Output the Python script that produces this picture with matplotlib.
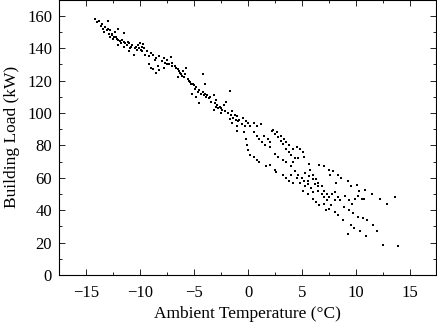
import matplotlib
matplotlib.use("Agg")
import matplotlib.pyplot as plt
from matplotlib.ticker import MultipleLocator

# ambient temperature (°C) and building load (kW)
temp = [
    -14.2, -14.0, -13.8, -13.5, -13.2, -13.0, -13.3, -13.0, -12.8, -12.6, -12.3, -12.0, -11.5,
    -12.8, -12.5, -12.2, -12.0, -11.8, -11.5, -11.2, -11.0, -10.8, -10.5, -10.2, -10.0, -9.8,
    -9.6, -9.7, -12.0, -11.5, -11.0, -10.6, -10.3, -9.8, -9.5, -9.2,
    -8.6, -8.2, -7.8, -7.5, -7.15, -7.0, -7.5, -7.8, -8.3, -8.8, -9.0, -9.2, -8.2, -8.5,
    -6.8, -6.5, -6.3, -6.0, -6.1, -5.8, -5.76, -6.5,
    -5.5, -5.3, -5.0, -4.8, -4.5, -4.2, -4.0, -3.8, -3.5, -3.2, -3.0, -4.18, -4.03, -5.2,
    -4.8, -4.5, -3.0, -2.8, -2.5, -3.2, -2.2, -2.0, -1.64, -1.5, -1.2, -1.0, -0.8, -0.5,
    -0.2, 0.0, -2.5, -1.7, -1.5, -1.0, -1.0, -0.4,
    0.2, 0.5, 0.8, 1.2, 0.5, 0.8, 1.0, 1.3, 1.6, 2.0, 2.2, 2.5, 2.8, 3.0, 3.2, 3.5, 3.8,
    4.0, 4.3, 4.5, 4.8, 5.1, 5.2, 4.6, 4.2, -0.15, -0.1, 0.0, 0.2, 0.5, 0.8, 1.0, 1.67,
    2.0, 2.5, 2.6, 3.2, 3.5, 3.8, 4.2, 2.5, 2.8, 3.2, 3.5, 4.0, 4.3, 4.6, 5.0, 5.2, 5.5,
    5.8, 6.0, 5.08, 5.5, 6.0, 6.3, 5.3, 5.6, 6.0, 6.3, 6.5, 6.8, 7.0, 7.3, 7.5, 7.8, 8.0,
    8.3, 8.5, 6.56, 7.0, 7.5, 8.0, 8.3, 8.82, 9.2, 9.5, 9.8, 10.4, 10.9, 6.6, 7.0, 7.5,
    7.9, 8.3, 8.6, 9.2, 9.5, 10.06, 10.3, 10.8, 11.5, 12.2, 12.9, 13.6, 9.0, 9.3, 9.6,
    9.9, 10.2, 10.5, 10.7, 8.9, 9.3, 9.7, 10.2, 10.6, 11.0, 11.6, 11.9, 12.45, 13.9,
    7.6, 8.1, 8.0, 7.7, 7.2, 6.5, 6.0, 5.7, 5.6,
    2.3, 2.7, 3.0, 3.3, 3.5, 3.8, 1.5, 1.8, 2.0, 4.2,
    4.0, 4.5, 4.8, 5.3, 5.5, 6.2, 6.5, 6.8, 7.0, 7.3,
    -13.6, -13.4, -13.1, -12.9, -12.6, -12.4, -12.1, -11.9, -11.7, -11.4, -11.1, -10.9,
    -10.7, -10.4, -10.1, -9.9, -9.4, -9.0, -8.8, -8.5, -8.0, -7.7, -7.3, -7.0, -6.7, -6.4,
    -6.2, -5.9, -5.6, -5.4, -5.1, -4.9, -4.6, -4.4, -4.1, -3.9, -3.6, -3.4, -3.1, -2.9,
    -2.6, -2.4, -2.1, -1.9, -1.6, -1.4, -1.1, -0.9, -0.6, -0.3,
]
load = [
    158, 156, 157, 155, 153, 157, 150, 152, 151, 149, 150, 151.8, 149.3,
    147, 146, 147, 145, 143, 144, 142, 143, 141, 140, 142, 143, 141,
    140, 142.5, 142, 141, 138, 136, 139, 138, 136, 135,
    133, 135, 134, 133, 134.5, 131, 130, 128, 129, 127, 128, 130, 126.6, 124.5,
    129, 127, 125, 126, 123, 124, 127.7, 122,
    120, 118, 117, 116, 114, 113, 112, 111, 110, 111, 108, 124, 117.8, 112,
    110, 106, 104, 103, 103, 102, 105, 107, 113.3, 101, 99, 98, 96, 97,
    95, 94, 100, 96.2, 94, 92, 89, 88,
    92, 94, 92, 93, 88, 86, 84, 82, 80, 79, 89, 87, 85, 83, 81, 78, 76,
    74, 72, 79, 78, 76, 73, 72, 70, 83.8, 80, 77, 74, 73, 71, 70, 67,
    68, 65, 63.6, 62, 60, 58, 57, 75, 73, 71, 70, 67, 64, 62, 60, 58, 56,
    54, 51, 51.7, 50, 47, 45, 63, 61, 62, 59, 57, 55, 52, 50, 48, 50, 51,
    48, 46, 43.5, 44, 41, 39, 37, 34, 25.3, 31, 29, 27, 24, 68, 67, 65,
    64, 62, 60, 58, 55, 55.4, 52, 52.5, 50, 47, 43.9, 48.4, 49, 46, 44,
    47, 49, 47, 47, 42, 40, 38, 36, 35, 34, 30.7, 27.4, 18.5, 18.1,
    62, 57, 46, 43, 40, 55, 59, 65, 68.6,
    89.5, 88, 86, 84, 82, 80, 86, 84, 82, 78,
    62, 60, 57, 55, 58, 56, 52, 50, 48, 46,
    154, 152, 151, 149, 148, 147, 146, 144.5, 145, 143, 144, 140,
    142, 141, 140, 139, 138, 137, 136, 134, 132, 131, 130, 129, 128, 126,
    124, 122, 121, 119, 118, 115, 113, 112, 111, 110, 109, 107, 106, 105,
    104, 102, 101, 100, 99, 97, 96, 95, 93, 92,
]

plt.rcParams["font.family"] = ["Liberation Serif", "DejaVu Serif"]

fig = plt.figure(figsize=(4.37, 3.25), dpi=100)
ax = fig.add_axes([0.135, 0.154, 0.863, 0.847])
ax.scatter(temp, load, s=3, marker="s", color="black", linewidths=0)

ax.set_xlim(-17.5, 17.4)
ax.set_ylim(0, 170)
ax.xaxis.set_major_locator(MultipleLocator(5))
ax.xaxis.set_minor_locator(MultipleLocator(2.5))
ax.yaxis.set_major_locator(MultipleLocator(20))
ax.yaxis.set_minor_locator(MultipleLocator(10))
ax.tick_params(which="both", direction="in", top=True, right=True, labelsize=12, width=0.6)
ax.tick_params(which="major", length=4)
ax.tick_params(which="minor", length=2)
ax.tick_params(axis="x", pad=7)
ax.tick_params(axis="y", pad=5)
for sp in ax.spines.values():
    sp.set_linewidth(0.8)

ax.set_xlabel("Ambient Temperature (°C)", fontsize=12.5, labelpad=4)
ax.set_ylabel("Building Load (kW)", fontsize=12.5, labelpad=5)

fig.savefig("out.png", dpi=100)
